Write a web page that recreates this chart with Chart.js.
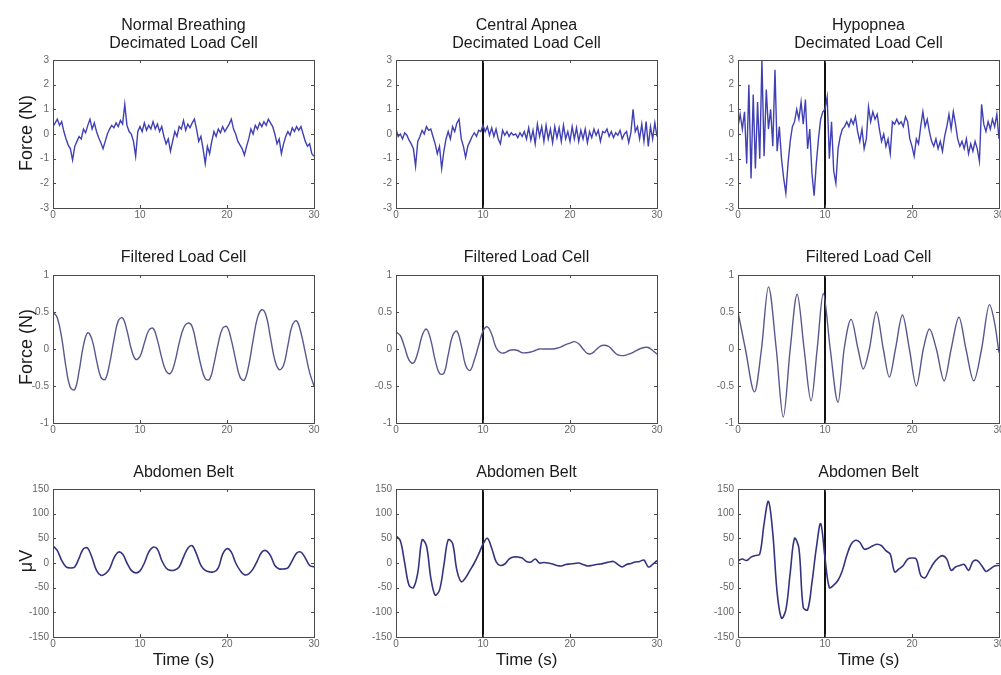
<!DOCTYPE html>
<html>
<head>
<meta charset="utf-8">
<script src="https://cdn.jsdelivr.net/npm/chart.js@4.4.1/dist/chart.umd.min.js"></script>
<style>
  html, body { margin:0; padding:0; background:#fff; }
  body { width:1001px; height:675px; overflow:hidden; position:relative; font-family:"Liberation Sans", Arial, sans-serif; }
  .pane { position:absolute; }
  .title { position:absolute; text-align:center; font-size:16px; line-height:18px; color:#1a1a1a; white-space:nowrap; }
  .ylab { position:absolute; width:200px; height:22px; line-height:22px; text-align:center; font-size:18px; color:#1a1a1a; transform:rotate(-90deg); }
  .xlab { position:absolute; text-align:center; font-size:17px; line-height:20px; color:#1a1a1a; }
</style>
</head>
<body>
<script>
// ---------- time grids (sampling steps) ----------
const FINE_STEP = 0.25;   // decimated load cell samples
const COARSE_STEP = 0.5;  // filtered / belt samples

// ---------- Row 1: Decimated Load Cell (N) ----------
const normalDecimated = [0.3,0.45,0.6,0.35,0.5,0.1,-0.2,-0.45,-0.6,-1.05,-0.5,-0.3,-0.1,-0.2,0.2,0.05,0.35,0.6,0.2,0.45,0.1,-0.15,-0.35,-0.6,-0.3,0.0,0.2,0.35,0.25,0.45,0.3,0.55,0.4,1.2,0.35,0.1,0.0,-0.3,-0.9,0.1,0.3,0.1,0.45,0.15,0.35,0.2,0.5,0.2,0.4,0.1,0.3,-0.1,-0.4,-0.2,-0.7,-0.3,0.1,-0.1,0.3,0.2,0.55,0.15,0.4,0.25,0.45,0.6,0.2,-0.3,-0.1,-0.6,-1.2,-0.5,-0.8,-0.3,0.1,-0.1,0.2,0.05,0.3,0.1,0.25,0.4,0.6,0.2,0.0,-0.3,-0.45,-0.6,-0.85,-0.5,-0.2,0.2,0.0,0.35,0.2,0.45,0.3,0.5,0.35,0.6,0.45,0.3,0.0,-0.4,-0.2,-0.8,-0.4,-0.1,0.1,-0.05,0.25,0.1,0.3,0.15,0.3,0.0,-0.3,-0.5,-0.4,-0.8,-0.9];
const apneaDecimated = [0.2,-0.1,0.0,-0.2,0.05,-0.05,-0.25,-0.4,-0.6,-1.3,-0.3,-0.1,0.15,0.0,0.3,0.15,0.2,-0.1,-0.4,-0.8,-0.5,-1.4,-0.7,-0.2,0.1,-0.2,0.3,0.1,0.45,0.6,-0.2,-0.5,-0.95,-0.5,-0.3,-0.1,0.05,-0.1,0.15,0.1,0.35,0.1,0.3,-0.05,0.25,-0.1,0.2,-0.2,-0.4,0.15,-0.05,0.1,-0.1,0.05,-0.05,0.0,-0.15,0.05,-0.1,0.1,-0.2,0.25,-0.25,0.15,-0.4,0.4,-0.1,0.3,-0.3,0.35,-0.2,0.2,-0.35,0.3,-0.15,0.25,-0.3,0.35,-0.2,0.1,-0.3,0.3,-0.2,0.25,-0.3,0.15,-0.2,0.2,-0.35,0.1,-0.15,0.2,-0.05,0.15,-0.3,0.1,0.05,0.2,-0.1,0.1,-0.15,0.05,-0.05,0.15,-0.2,0.0,0.1,-0.35,0.05,1.0,0.1,0.3,-0.2,0.4,-0.3,0.5,-0.5,0.3,-0.2,0.45,-0.1];
const hypopneaDecimated = [0.3,0.8,0.2,0.9,-1.2,2.0,-1.8,1.6,-1.4,1.3,-1.0,3.0,-0.9,1.8,0.2,1.0,-0.5,2.6,-0.7,0.3,-1.0,-1.8,-2.4,-1.2,-0.3,0.3,0.5,1.0,0.6,1.3,0.4,1.4,-0.6,0.2,-1.6,-2.5,-1.2,-0.2,0.6,0.9,1.0,1.5,-1.0,0.5,-1.5,-2.0,-0.6,-0.1,0.2,0.3,0.5,0.3,0.6,0.4,0.7,0.1,-0.3,0.2,-0.6,-0.2,1.1,0.5,0.9,0.6,0.8,0.2,-0.3,0.0,-0.5,-0.2,-0.8,0.5,0.4,0.6,0.4,0.5,0.3,0.7,0.5,-0.2,-0.5,-0.9,-0.2,-0.4,0.3,0.9,0.3,0.6,0.1,-0.3,-0.5,-0.2,-0.6,-0.3,-0.7,-0.1,0.3,0.8,0.2,0.9,0.4,-0.2,-0.5,-0.3,-0.6,-0.2,-0.8,-0.4,-0.7,-0.3,-0.6,-1.1,1.2,0.4,0.1,0.5,0.2,0.6,0.3,0.8,-0.2];

// ---------- Row 2: Filtered Load Cell (N) ----------
const normalFiltered = [0.5,0.42,0.15,-0.25,-0.52,-0.55,-0.3,0.05,0.22,0.12,-0.15,-0.38,-0.41,-0.2,0.12,0.38,0.42,0.25,0.0,-0.14,-0.1,0.08,0.25,0.28,0.12,-0.12,-0.3,-0.33,-0.18,0.08,0.28,0.35,0.3,0.05,-0.22,-0.4,-0.41,-0.2,0.08,0.28,0.3,0.12,-0.15,-0.38,-0.42,-0.22,0.12,0.42,0.53,0.45,0.15,-0.15,-0.28,-0.22,0.05,0.32,0.38,0.22,-0.05,-0.32,-0.5];
const apneaFiltered = [0.23,0.18,0.02,-0.15,-0.19,-0.05,0.18,0.27,0.12,-0.15,-0.33,-0.33,-0.08,0.18,0.24,0.05,-0.22,-0.29,-0.15,0.05,0.24,0.3,0.2,0.02,-0.05,-0.05,-0.02,-0.01,-0.02,-0.05,-0.05,-0.04,-0.02,0.0,0.0,0.0,0.0,0.01,0.03,0.06,0.08,0.1,0.07,0.0,-0.06,-0.06,-0.01,0.04,0.05,0.03,-0.03,-0.08,-0.09,-0.08,-0.06,-0.03,0.0,0.02,0.02,-0.02,-0.07];
const hypopneaFilteredTime = [0,0.85,1.9,2.7,3.5,4.4,5.2,6.0,6.8,7.6,8.4,9.1,9.8,10.6,11.5,12.2,13.0,13.8,14.4,15.1,15.9,16.7,17.4,18.1,18.9,19.7,20.5,21.3,22.0,22.8,23.7,24.5,25.4,26.2,27.1,28.0,28.9,29.5,30];
const hypopneaFiltered = [0.5,0,-0.58,0,0.84,0,-0.92,0,0.74,0,-0.7,0,0.75,0,-0.72,0,0.4,0,-0.27,0,0.5,0,-0.38,0,0.46,0,-0.5,0,0.27,0,-0.43,0,0.43,0,-0.43,0,0.6,0.35,-0.05];

// ---------- Row 3: Abdomen Belt (µV) ----------
const normalBelt = [35,25,5,-8,-10,-8,10,29,30,10,-15,-25,-22,-12,10,22,18,0,-15,-20,-16,0,22,32,28,5,-10,-15,-14,-8,12,30,35,18,-5,-15,-18,-18,-10,18,29,22,0,-15,-24,-22,-12,5,22,25,15,-5,-12,-12,-10,5,20,22,10,-5,-8];
const apneaBelt = [55,45,0,-45,-50,-20,47,35,-30,-65,-55,-5,47,40,-15,-38,-30,-15,0,18,38,50,30,3,-5,-2,8,12,12,10,3,2,8,0,1,0,-2,-5,-6,-3,-2,-1,0,-3,-6,-5,-3,-2,0,2,3,-3,-8,-3,-1,2,3,6,-8,-3,5];
const hypopneaBelt = [5,8,5,12,15,18,80,125,60,-60,-112,-95,-20,50,30,-90,-95,-40,30,80,10,-50,-45,-35,-15,15,38,46,42,28,30,35,38,35,25,18,-18,-12,-5,8,10,8,-25,-30,-15,0,10,15,8,-15,-8,-5,-3,-15,3,5,-5,-17,-12,-6,-5];

// ---------- axis ticks ----------
const xTicks = [0, 10, 20, 30];
const forceTicksWide = [-3, -2, -1, 0, 1, 2, 3];
const forceTicksNarrow = [-1, -0.5, 0, 0.5, 1];
const beltTicks = [-150, -100, -50, 0, 50, 100, 150];
const eventTime = 10; // onset marker (s)

// ---------- helpers ----------
function onGrid(values, step) { return values.map((v, i) => ({ x: i * step, y: v })); }
function paired(times, values) { return values.map((v, i) => ({ x: times[i], y: v })); }

const colLeft = [53, 396, 738];
const rowTop = [58, 273, 487];
const PW = 261, PH = 150;
const YAX = 42, PADT = 8, PADR = 16, XAX = 20;

const boxPlugin = {
  id: 'matlabBox',
  afterDraw(chart) {
    const { ctx, chartArea: a, scales } = chart;
    ctx.save();
    ctx.strokeStyle = '#4a4a4a';
    ctx.lineWidth = 1;
    ctx.strokeRect(Math.round(a.left) + 0.5, Math.round(a.top) + 0.5, Math.round(a.right - a.left), Math.round(a.bottom - a.top));
    ctx.beginPath();
    const L = 3;
    scales.x.ticks.forEach(t => {
      const px = Math.round(scales.x.getPixelForValue(t.value)) + 0.5;
      ctx.moveTo(px, a.bottom); ctx.lineTo(px, a.bottom - L);
      ctx.moveTo(px, a.top); ctx.lineTo(px, a.top + L);
    });
    scales.y.ticks.forEach(t => {
      const py = Math.round(scales.y.getPixelForValue(t.value)) + 0.5;
      ctx.moveTo(a.left, py); ctx.lineTo(a.left + L, py);
      ctx.moveTo(a.right, py); ctx.lineTo(a.right - L, py);
    });
    ctx.stroke();
    ctx.restore();
  }
};

function makePanel(col, row, points, yTicks, style, marker) {
  const left = colLeft[col] - YAX, top = rowTop[row] - PADT;
  const w = YAX + PW + PADR, h = PADT + PH + XAX;
  const div = document.createElement('div');
  div.className = 'pane';
  div.style.left = left + 'px'; div.style.top = top + 'px';
  div.style.width = w + 'px'; div.style.height = h + 'px';
  const cv = document.createElement('canvas');
  cv.width = w; cv.height = h;
  cv.style.width = w + 'px'; cv.style.height = h + 'px';
  div.appendChild(cv);
  document.body.appendChild(div);
  const yMin = yTicks[0], yMax = yTicks[yTicks.length - 1];
  const datasets = [{
    data: points, borderColor: style.color, borderWidth: style.width,
    pointRadius: 0, tension: style.tension, cubicInterpolationMode: style.mode || 'default', fill: false
  }];
  if (marker) {
    datasets.push({ data: [{ x: eventTime, y: yMin }, { x: eventTime, y: yMax }], borderColor: '#111', borderWidth: 2, pointRadius: 0, fill: false });
  }
  new Chart(cv, {
    type: 'line',
    data: { datasets },
    options: {
      responsive: false, animation: false, devicePixelRatio: 1,
      layout: { padding: { top: PADT, right: PADR, left: 0, bottom: 0 } },
      plugins: { legend: { display: false }, tooltip: { enabled: false } },
      scales: {
        x: {
          type: 'linear', min: 0, max: 30,
          afterBuildTicks: s => { s.ticks = xTicks.map(v => ({ value: v })); },
          afterFit: s => { s.height = XAX; },
          grid: { display: false, drawTicks: false, tickLength: 0 }, border: { display: false },
          ticks: { color: '#666', font: { size: 10, family: 'Liberation Sans' }, padding: 1, maxRotation: 0, callback: v => String(v) }
        },
        y: {
          type: 'linear', min: yMin, max: yMax,
          afterBuildTicks: s => { s.ticks = yTicks.map(v => ({ value: v })); },
          afterFit: s => { s.width = YAX; },
          grid: { display: false, drawTicks: false, tickLength: 0 }, border: { display: false },
          ticks: { color: '#666', font: { size: 10, family: 'Liberation Sans' }, padding: 4, callback: v => String(v) }
        }
      }
    },
    plugins: [boxPlugin]
  });
}

function addText(cls, html, x, y, extra) {
  const d = document.createElement('div');
  d.className = cls; d.innerHTML = html;
  d.style.left = x + 'px'; d.style.top = y + 'px';
  if (extra) Object.assign(d.style, extra);
  document.body.appendChild(d);
  return d;
}

const sTop = { color: '#4040b4', width: 1.4, tension: 0 };
const sMid = { color: '#58588e', width: 1.4, tension: 0.4 };
const sMidMono = { color: '#58588e', width: 1.4, tension: 0.4, mode: 'monotone' };
const sBot = { color: '#34347e', width: 1.6, tension: 0.35 };

makePanel(0, 0, onGrid(normalDecimated, FINE_STEP), forceTicksWide, sTop, false);
makePanel(1, 0, onGrid(apneaDecimated, FINE_STEP), forceTicksWide, sTop, true);
makePanel(2, 0, onGrid(hypopneaDecimated, FINE_STEP), forceTicksWide, sTop, true);
makePanel(0, 1, onGrid(normalFiltered, COARSE_STEP), forceTicksNarrow, sMid, false);
makePanel(1, 1, onGrid(apneaFiltered, COARSE_STEP), forceTicksNarrow, sMid, true);
makePanel(2, 1, paired(hypopneaFilteredTime, hypopneaFiltered), forceTicksNarrow, sMidMono, true);
makePanel(0, 2, onGrid(normalBelt, COARSE_STEP), beltTicks, sBot, false);
makePanel(1, 2, onGrid(apneaBelt, COARSE_STEP), beltTicks, sBot, true);
makePanel(2, 2, onGrid(hypopneaBelt, COARSE_STEP), beltTicks, sBot, true);

// titles
const topTitles = ['Normal Breathing<br>Decimated Load Cell', 'Central Apnea<br>Decimated Load Cell', 'Hypopnea<br>Decimated Load Cell'];
colLeft.forEach((l, i) => {
  const cx = l + PW / 2;
  addText('title', topTitles[i], cx - 100, 16, { width: '200px' });
  addText('title', 'Filtered Load Cell', cx - 100, 248, { width: '200px' });
  addText('title', 'Abdomen Belt', cx - 100, 463, { width: '200px' });
  addText('xlab', 'Time (s)', cx - 60, 650, { width: '120px' });
});
addText('ylab', 'Force (N)', 26 - 100, 133 - 11);
addText('ylab', 'Force (N)', 26 - 100, 347 - 11);
addText('ylab', '&mu;V', 26 - 100, 561 - 11);
</script>
</body>
</html>
